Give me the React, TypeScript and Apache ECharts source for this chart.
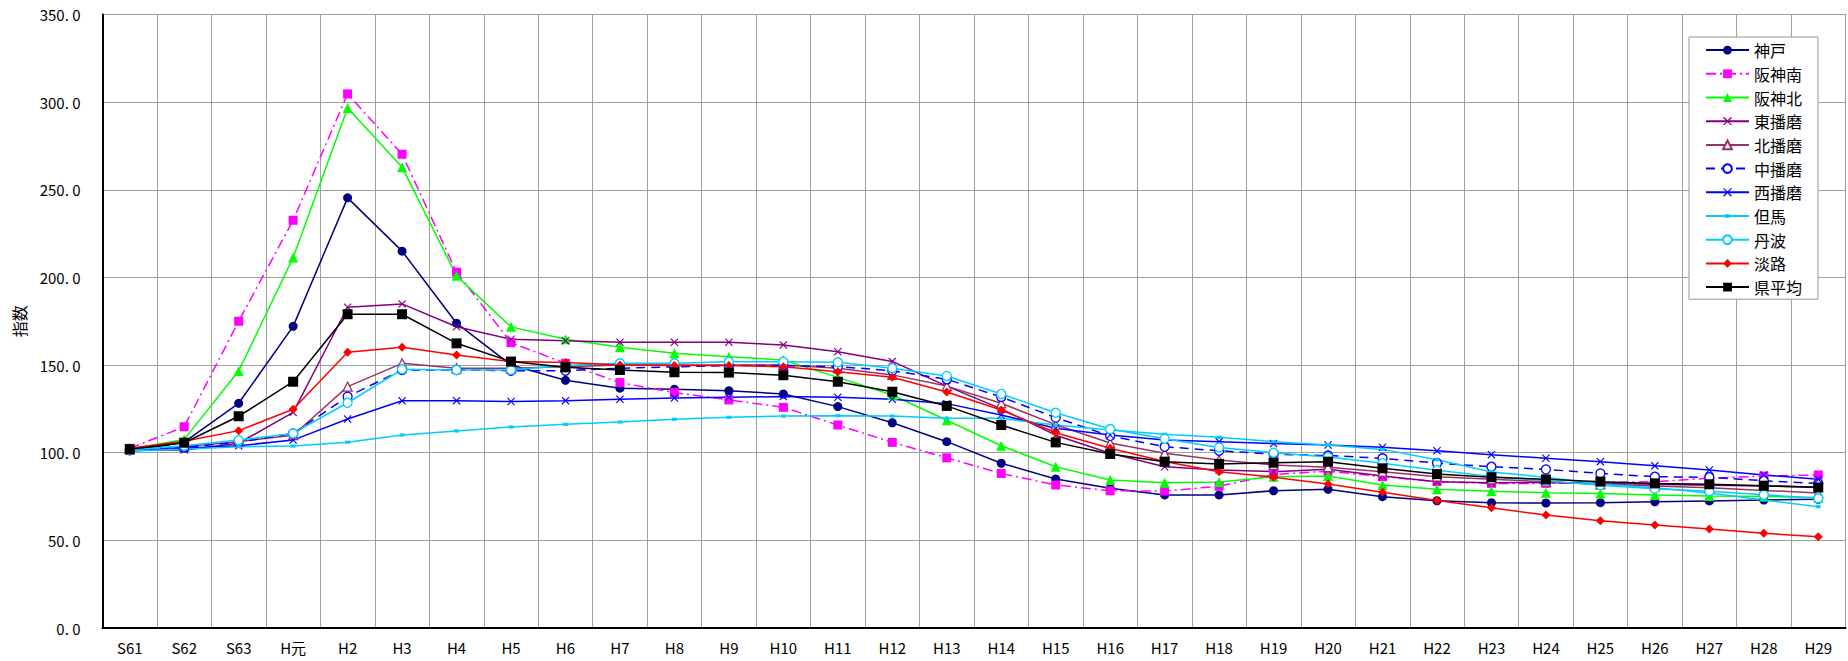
import React, { useEffect, useRef } from "react";
import * as echarts from "echarts";

const categories = ["S61","S62","S63","H元","H2","H3","H4","H5","H6","H7","H8","H9","H10","H11","H12","H13","H14","H15","H16","H17","H18","H19","H20","H21","H22","H23","H24","H25","H26","H27","H28","H29"];

const kobe = [101,106,128.2,172.1,245.4,215,173.9,150,141.3,136.8,136.2,135.4,133.5,126.3,117.1,106.3,94,85,79.7,75.9,75.9,78.3,79.1,74.9,72.6,71.5,71.3,71.5,72,72.5,73,73.4];
const hanshinMinami = [102.5,114.8,175,232.6,304.7,270.3,203,162.8,151,140,134.3,130.1,125.9,115.8,105.9,97.1,88.2,81.6,78.3,78.1,80.9,87.5,89.5,86.3,83.5,82.5,82.5,83,83.5,85.4,86.7,87.3];
const hanshinKita = [102,107.6,146.6,211.3,296.6,262.9,200.9,171.8,164.7,160.2,156.7,154.8,152.9,143,132.9,118.5,104,92,84.4,82.9,83.3,86.3,86.7,81.6,79.1,78,77.2,76.8,75.9,75.3,75,74.5];
const higashiHarima = [101.5,101.5,105.4,123,183,184.9,171.9,164.7,163.9,163,163,163,161.5,157.6,152.1,138,125,110,99.7,92,90.1,89.2,90.5,86.7,83.5,82.9,83,82.5,82,81.5,81,80.5];
const kitaHarima = [102,103.5,106.3,110,137.7,151,148.2,148.2,149,150,150,150,150,148.2,144.4,138,128.2,116,105.5,99.7,95.8,93,91.7,89.2,86.3,84.8,83.5,82,81,80,78.5,77];
const nakaHarima = [101.5,103,106,111,132,147.2,147.2,146.8,146.8,148.2,149,149.7,149.7,149.1,146.8,141.9,131.8,120,109.6,103.4,101.1,99.2,98.4,96.8,94.1,92,90.5,88.2,86.3,86,84,82.5];
const nishiHarima = [101,102.5,104,107.2,119.2,129.6,129.7,129.2,129.7,130.5,131.2,131.6,132,131.6,130.5,128,121.5,113.9,110.1,107.2,106.3,105.2,104.4,103.1,101.1,98.9,96.8,94.9,92.5,90.1,87.3,84.8];
const tajima = [101,102,103.4,103.8,106,110.1,112.4,114.7,116.2,117.5,119.1,120.2,120.9,121.1,120.9,119.6,119.6,115.8,112.9,110.5,108.8,106.3,104.4,101.9,96,89,86,82,80,77,73,69.2];
const tanba = [101.5,104,107.2,111,128.5,147.6,147.2,147.2,149.7,151,151,151.9,151.9,151.6,148.2,143.8,133.5,122.8,113.5,108,103,100,97.5,94,90,86.5,84,81.5,79.5,78,76,74];
const awaji = [102.5,106.5,112.6,124.8,157.3,160.2,155.8,152,151.5,150,149.7,149.7,149.1,146.2,143,134.6,124.4,111.4,102.5,95,89.2,86,82.1,77.4,72.8,68.6,64.4,61.2,58.7,56.5,54,52.1];
const kenAvg = [102,105.7,120.8,140.5,179,179,162.4,152,148.7,147.2,145.9,145.7,144.2,140.5,134.8,126.7,115.8,105.9,99.3,94.9,93.6,94.3,94.9,91.1,87.8,86,84.8,83.5,82.5,82,81.2,80.2];

const seriesNames = ["神戸","阪神南","阪神北","東播磨","北播磨","中播磨","西播磨","但馬","丹波","淡路","県平均"];

const X_PATH = "path://M0,1L1,0L5,4L9,0L10,1L6,5L10,9L9,10L5,6L1,10L0,9L4,5Z";
const DASH_PATH = "path://M0,0M10,10M2,3L8,3L8,7L2,7Z";

export default function App() {
  const ref = useRef<HTMLDivElement>(null);
  useEffect(() => {
    document.body.style.margin = "0";
    if (!ref.current) return;
    const chart = echarts.init(ref.current, null, { renderer: "svg" });
    const font = "'Noto Sans CJK JP', sans-serif";
    const mk = (name: string, data: number[], color: string, symbol: string, symbolSize: any, extra: any = {}) => ({
      name,
      type: "line",
      data,
      symbol,
      symbolSize,
      showSymbol: true,
      lineStyle: { color, width: 1.5, type: extra.lineType || "solid" },
      itemStyle: { color, borderColor: color, borderWidth: 0 },
      emphasis: { disabled: true },
    });
    const empty = (color: string) => ({ color: "#ffffff", borderColor: color, borderWidth: 1.3 });
    const series = [
      mk(seriesNames[0], kobe, "#000080", "circle", 9),
      mk(seriesNames[1], hanshinMinami, "#FF00FF", "rect", 9, { lineType: [10, 4, 2, 4] }),
      mk(seriesNames[2], hanshinKita, "#00FF00", "triangle", 10),
      mk(seriesNames[3], higashiHarima, "#800080", X_PATH, 8),
      { ...mk(seriesNames[4], kitaHarima, "#993366", "triangle", 9), itemStyle: empty("#993366") },
      { ...mk(seriesNames[5], nakaHarima, "#0000FF", "circle", 9, { lineType: [9, 6] }), itemStyle: empty("#0000FF") },
      mk(seriesNames[6], nishiHarima, "#0000FF", X_PATH, 8),
      mk(seriesNames[7], tajima, "#00CCFF", DASH_PATH, 8),
      { ...mk(seriesNames[8], tanba, "#00CCFF", "circle", 9), itemStyle: empty("#00CCFF") },
      mk(seriesNames[9], awaji, "#FF0000", "diamond", 9),
      mk(seriesNames[10], kenAvg, "#000000", "rect", 10),
    ];
    chart.setOption({
      animation: false,
      textStyle: { fontFamily: font },
      grid: {
        left: 102.5,
        right: 2.5,
        top: 14.5,
        bottom: 33,
        show: true,
        borderColor: "#000",
        borderWidth: 1,
        backgroundColor: "transparent",
      },
      legend: {
        orient: "vertical",
        left: 1689,
        top: 37,
        data: seriesNames,
        backgroundColor: "#ffffff",
        borderColor: "#999999",
        borderWidth: 1,
        borderRadius: 0,
        padding: [5, 16, 4, 16],
        itemWidth: 43,
        itemHeight: 11,
        itemGap: 7.5,
        textStyle: { fontSize: 16, color: "#000", fontFamily: font, lineHeight: 16.2 },
        selectedMode: false,
      },
      xAxis: {
        type: "category",
        data: categories,
        boundaryGap: true,
        axisLine: { lineStyle: { color: "#000", width: 2 } },
        axisTick: { show: false },
        axisLabel: { color: "#000", fontSize: 15, margin: 12, interval: 0, fontFamily: font },
        splitLine: { show: true, interval: 0, lineStyle: { color: "#a0a0a0", width: 1 } },
      },
      yAxis: {
        type: "value",
        min: 0,
        max: 350,
        interval: 50,
        name: "指数",
        nameLocation: "middle",
        nameGap: 76,
        nameTextStyle: { color: "#000", fontSize: 16, fontFamily: font },
        axisLine: { show: true, lineStyle: { color: "#000", width: 2 } },
        axisTick: { show: false },
        axisLabel: {
          color: "#000",
          fontSize: 15,
          margin: 22,
          fontFamily: font,
          formatter: (v: number) => v.toFixed(1).replace(".", ". "),
        },
        splitLine: { show: true, lineStyle: { color: "#a0a0a0", width: 1 } },
      },
      series,
    });
    return () => chart.dispose();
  }, []);
  return <div ref={ref} style={{ width: 1848, height: 661 }} />;
}
